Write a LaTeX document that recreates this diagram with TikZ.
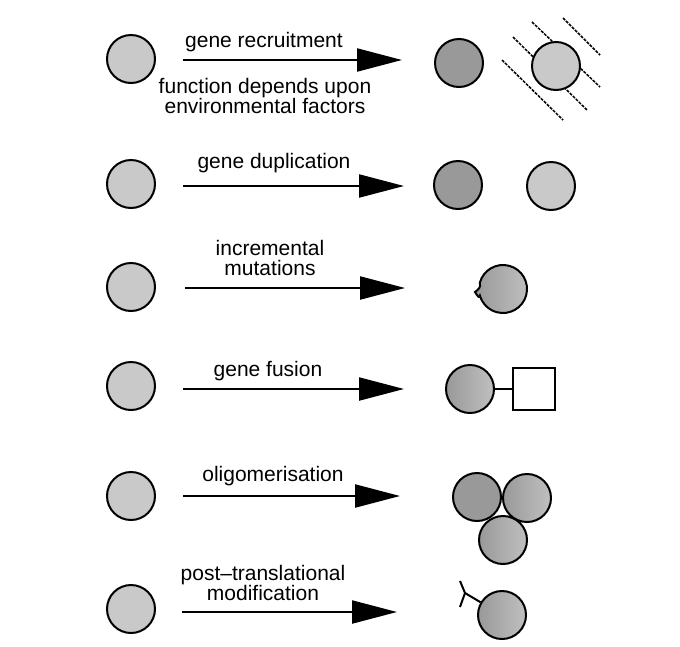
\documentclass[tikz,border=0pt]{standalone}
\usepackage{fontspec}
\setmainfont{Liberation Sans}
\usetikzlibrary{arrows.meta}
\definecolor{dk}{gray}{0.60}
\definecolor{lt}{gray}{0.79}
\begin{document}
\begin{tikzpicture}[x=1pt,y=-1pt,
  src/.style={circle,draw,line width=2pt,fill=lt,minimum size=48pt,inner sep=0pt},
  prod/.style={circle,draw,line width=2pt,fill=dk,minimum size=48pt,inner sep=0pt},
  prodsh/.style={circle,draw,line width=2pt,left color=dk,right color=lt!80!dk,minimum size=48pt,inner sep=0pt},
  lbl/.style={font=\fontsize{21}{20.5}\selectfont,align=center,inner sep=0pt},
  conv/.style={line width=2.2pt,-{Triangle[length=45pt,width=23pt]}},
  hatch/.style={line width=1.5pt,dash pattern=on 3pt off 1.2pt},
  thin/.style={line width=2pt}]
\useasboundingbox[fill=white] (0,0) rectangle (680,646);

% row 1: gene recruitment
\node[src] (s1) at (131,59) {};
\coordinate (a1s) at (183,60);
\coordinate (a1e) at (402,60);
\draw[conv] (a1s) -- (a1e);
\node[lbl] (t1) at (264,42) {gene recruitment};
\node[lbl] (t1b) at (265,96) {function depends upon\\environmental factors};
\coordinate (h1a) at (502,60);  \coordinate (h1b) at (563,120);
\coordinate (h2a) at (513,37);  \coordinate (h2b) at (587,110);
\coordinate (h3a) at (532,22);  \coordinate (h3b) at (600,87);
\coordinate (h4a) at (563,18);  \coordinate (h4b) at (600,55);
\draw[hatch] (h1a) -- (h1b);
\draw[hatch] (h2a) -- (h2b);
\draw[hatch] (h3a) -- (h3b);
\draw[hatch] (h4a) -- (h4b);
\node[prod] (p1) at (459,63) {};
\node[src] (q1) at (556,66) {};

% row 2: gene duplication
\node[src] (s2) at (131,184) {};
\coordinate (a2s) at (183,186);
\coordinate (a2e) at (404,186);
\draw[conv] (a2s) -- (a2e);
\node[lbl] (t2) at (274,163) {gene duplication};
\node[prod] (p2) at (458,185) {};
\node[src] (q2) at (551,186) {};

% row 3: incremental mutations
\node[src] (s3) at (131,287) {};
\coordinate (a3s) at (185,288);
\coordinate (a3e) at (405,288);
\draw[conv] (a3s) -- (a3e);
\node[lbl] (t3) at (270,258) {incremental\\mutations};
\draw[thin,left color=dk,right color=lt!80!dk]
  (503,289) ++(195:24) arc[start angle=195,end angle=524,radius=24]
  .. controls (479,298) .. (475,292)
  .. controls (479,289) and (481,287) .. cycle;

% row 4: gene fusion
\node[src] (s4) at (131,386) {};
\coordinate (a4s) at (183,389);
\coordinate (a4e) at (404,389);
\draw[conv] (a4s) -- (a4e);
\node[lbl] (t4) at (268,371) {gene fusion};
\node[prodsh] (p4) at (470,389) {};
\node[draw,line width=2pt,fill=white,minimum size=42pt,inner sep=0pt] (b4) at (534,389) {};
\draw[thin] (p4) -- (b4);

% row 5: oligomerisation
\node[src] (s5) at (131,496) {};
\coordinate (a5s) at (183,496);
\coordinate (a5e) at (400,496);
\draw[conv] (a5s) -- (a5e);
\node[lbl] (t5) at (273,476) {oligomerisation};
\node[prod] (o1) at (477,497) {};
\node[prodsh] (o2) at (527,498) {};
\node[prodsh] (o3) at (503,540) {};

% row 6: post-translational modification
\node[src] (s6) at (131,609) {};
\coordinate (a6s) at (182,612);
\coordinate (a6e) at (397,612);
\draw[conv] (a6s) -- (a6e);
\node[lbl] (t6) at (263,583) {post–translational\\modification};
\node[prodsh] (p6) at (502,615) {};
\coordinate (y0) at (465,593);
\coordinate (y1) at (460,581);
\coordinate (y2) at (460,607);
\draw[thin] (p6) -- (y0);
\draw[thin] (y1) -- (y0) -- (y2);
\end{tikzpicture}
\end{document}
